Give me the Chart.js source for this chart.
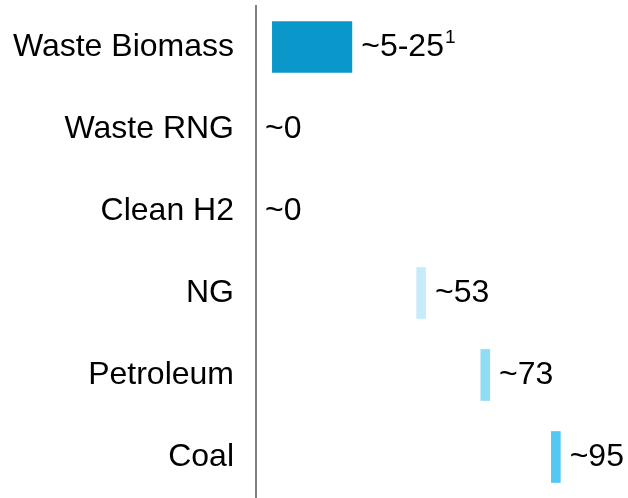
<!DOCTYPE html>
<html>
<head>
<meta charset="utf-8">
<script src="https://cdn.jsdelivr.net/npm/chart.js@4/dist/chart.umd.min.js"></script>
<style>
  html, body { margin: 0; padding: 0; background: #fff; }
  #wrap { width: 628px; height: 498px; }
</style>
</head>
<body>
<div id="wrap"><canvas id="chart"></canvas></div>
<script>
// categories and values (floating bars: [start, end])
var categories = ["Waste Biomass", "Waste RNG", "Clean H2", "NG", "Petroleum", "Coal"];
var barStart = [5, 0, 0, 50, 70, 92];
var barEnd = [30, 0, 0, 53, 73, 95];
var valueLabels = ["~5-25", "~0", "~0", "~53", "~73", "~95"];
var labelNotes = ["1", "", "", "", "", ""];
var barColors = ["#0A97C9", "rgba(0,0,0,0)", "rgba(0,0,0,0)", "#C6ECFA", "#8EDCF6", "#52C9F2"];

var FONT = "Arial, 'Liberation Sans', sans-serif";

// draws "~53" etc. right of each bar end
var valueLabelPlugin = {
    id: "valueLabels",
    afterDatasetsDraw: function (chart) {
        const ctx = chart.ctx;
        const meta = chart.getDatasetMeta(0);
        const xScale = chart.scales.x;
        ctx.save();
        ctx.fillStyle = "#000";
        ctx.textBaseline = "middle";
        ctx.textAlign = "left";
        meta.data.forEach(function (bar, i) {
            const x = xScale.getPixelForValue(barEnd[i]) + 9;
            const y = bar.y;
            ctx.font = "32px " + FONT;
            ctx.fillText(valueLabels[i], x, y);
            if (labelNotes[i]) {
                const w = ctx.measureText(valueLabels[i]).width;
                ctx.font = "19px " + FONT;
                ctx.fillText(labelNotes[i], x + w + 1, y - 9);
            }
        });
        ctx.restore();
    }
};

const config = {
    type: "bar",
    data: {
        labels: categories,
        datasets: [{
            data: categories.map(function (c, i) { return [barStart[i], barEnd[i]]; }),
            backgroundColor: barColors,
            borderWidth: 0,
            barPercentage: 0.63,
            categoryPercentage: 1
        }]
    },
    options: {
        indexAxis: "y",
        responsive: true,
        maintainAspectRatio: false,
        animation: false,
        layout: { padding: { top: 6, right: 0, bottom: 0, left: 0 } },
        plugins: {
            legend: { display: false },
            tooltip: { enabled: false }
        },
        scales: {
            x: {
                display: false,
                min: 0,
                max: 116
            },
            y: {
                grid: { display: false, drawTicks: false },
                border: { display: true, color: "#808080", width: 2 },
                ticks: {
                    color: "#000",
                    padding: 22,
                    font: { family: FONT, size: 32 }
                },
                afterFit: function (scale) {
                    scale.width = 256;
                    scale.paddingTop = 0;
                    scale.paddingBottom = 0;
                }
            }
        }
    },
    plugins: [valueLabelPlugin]
};

const ctx = document.getElementById("chart").getContext("2d");
new Chart(ctx, config);
</script>
</body>
</html>
